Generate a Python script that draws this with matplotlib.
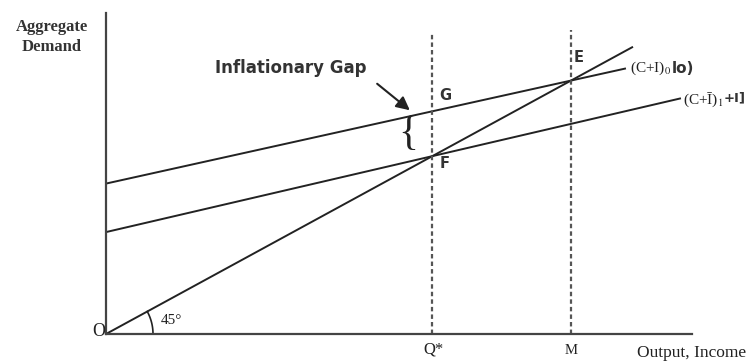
import numpy as np
import matplotlib.pyplot as plt

# Keynesian cross: aggregate demand against output
income_45 = [0, 527]                 # 45-degree line, AD = Y
q_star = 326                         # full-employment output
m_level = 465                        # equilibrium output with the higher demand
ad0_intercept, ad0_slope, ad0_end = 276, 0.4065, 519
ad1_intercept, ad1_slope, ad1_end = 187, 0.427, 574
dash_top = [552, 558]                # heights of the Q* and M guides

SERIF = ['Liberation Serif', 'DejaVu Serif']
SANS = ['DejaVu Sans']
INK = '#222222'
plt.rcParams['mathtext.fontset'] = 'stix'

fig = plt.figure(figsize=(7.47, 3.62), dpi=100)
W, H = 747, 362
ax = fig.add_axes([106 / W, (H - 334) / H, (692 - 106) / W, (334 - 13) / H])
ax.set_xlim(0, 586)
ax.set_ylim(0, 589)
for s in ['top', 'right']:
    ax.spines[s].set_visible(False)
for s in ['left', 'bottom']:
    ax.spines[s].set_linewidth(1.6)
    ax.spines[s].set_color('#444444')
ax.set_xticks([])
ax.set_yticks([])

# 45-degree line
ax.plot(income_45, income_45, color=INK, lw=1.4, solid_capstyle='butt')

# aggregate demand schedules
x0 = np.array([0, ad0_end])
x1 = np.array([0, ad1_end])
ax.plot(x0, ad0_intercept + ad0_slope * x0, color=INK, lw=1.4)
ax.plot(x1, ad1_intercept + ad1_slope * x1, color=INK, lw=1.4)

# vertical guides at Q* and M
for xv, top in zip([q_star, m_level], dash_top):
    ax.plot([xv, xv], [0, top], color='#555555', lw=1.6, linestyle=(0, (2, 1.4)))

# labelled points
g_y = ad0_intercept + ad0_slope * q_star
f_y = ad1_intercept + ad1_slope * q_star
e_y = ad0_intercept + ad0_slope * m_level
pt_style = dict(textcoords='offset pixels', fontsize=10.5, fontweight='bold',
                family=SANS, color='#333333', ha='center', va='center')
ax.annotate('G', (q_star, g_y), xytext=(13, 16), **pt_style)
ax.annotate('F', (q_star, f_y), xytext=(13, -7), **pt_style)
ax.annotate('E', (m_level, e_y), xytext=(8, 23), **pt_style)

ser_style = dict(textcoords='offset pixels', family=SERIF, color=INK,
                 ha='center', va='center')
ax.annotate('O', (0, 0), xytext=(-7, 2), fontsize=13, **ser_style)
ax.annotate('Q*', (q_star, 0), xytext=(2, -16), fontsize=12, **ser_style)
ax.annotate('M', (m_level, 0), xytext=(0, -16), fontsize=10.5, **ser_style)
ax.annotate('45°', (0, 0), xytext=(65, 13), fontsize=11, **ser_style)

# angle arc at the origin
sy = (334 - 13) / 589
t = np.linspace(0, np.arctan(sy), 30)
r = 47
ax.plot(r * np.cos(t), r * np.sin(t) / sy, color=INK, lw=1.2)

# schedule labels
end0 = (ad0_end, ad0_intercept + ad0_slope * ad0_end)
end1 = (ad1_end, ad1_intercept + ad1_slope * ad1_end)
lab_style = dict(textcoords='offset pixels', ha='left', va='center',
                 annotation_clip=False)
ax.annotate('(C+I)$_0$', end0, xytext=(5, 0), family=SERIF, fontsize=11,
            color=INK, **lab_style)
ax.annotate('lo)', end0, xytext=(47, 0), family=SANS, fontsize=11,
            fontweight='bold', color='#333333', **lab_style)
ax.annotate('(C+\u012a)$_1$', end1, xytext=(3, -1), family=SERIF, fontsize=11,
            color=INK, **lab_style)
ax.annotate('+I]', end1, xytext=(44, 1), family=SANS, fontsize=9.5,
            fontweight='bold', color='#333333', **lab_style)

# inflationary gap callout
ax.annotate('', xy=(412 - 106, (334 - 112) / sy), xytext=(375 - 106, (334 - 82) / sy),
            arrowprops=dict(arrowstyle='-|>,head_length=0.8,head_width=0.4',
                            color=INK, lw=1.5))
fig.text(291 / W, 1 - 68 / H, 'Inflationary Gap', family=SANS, fontsize=12,
         fontweight='bold', color='#333333', ha='center', va='center')
ax.text(q_star - 24, (g_y + f_y) / 2, '{', family=SERIF, fontsize=30,
        color=INK, ha='center', va='center')

# axis titles
fig.text(52 / W, 1 - 37 / H, 'Aggregate\nDemand', family=SERIF, fontsize=12,
         fontweight='bold', color='#333333', ha='center', va='center',
         linespacing=1.35)
fig.text(746 / W, 1 - 353 / H, 'Output, Income', family=SERIF, fontsize=12.5,
         color=INK, ha='right', va='center')

fig.savefig('out.png', dpi=100)
